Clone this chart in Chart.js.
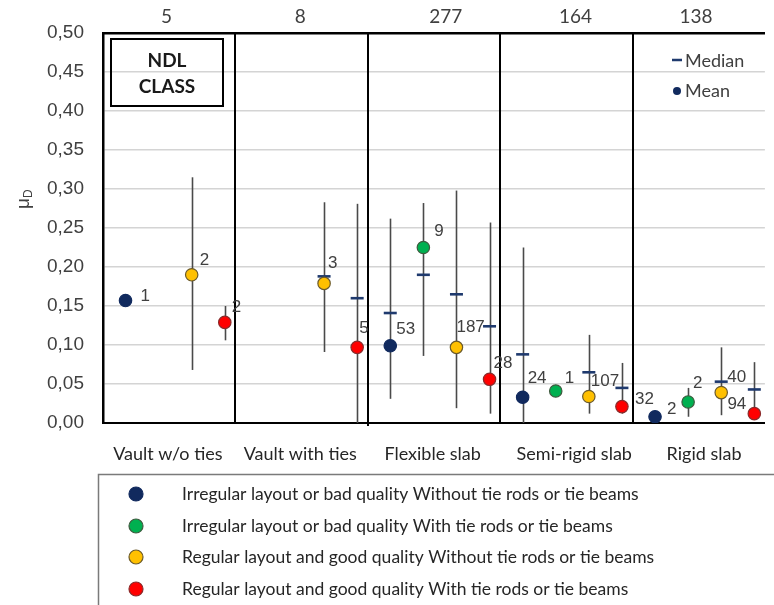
<!DOCTYPE html>
<html>
<head>
<meta charset="utf-8">
<script src="https://cdn.jsdelivr.net/npm/chart.js@4.4.1/dist/chart.umd.min.js"></script>
<style>
  html, body { margin: 0; padding: 0; background: #fff; }
  #wrap { width: 774px; height: 605px; position: relative; }
</style>
</head>
<body>
<div id="wrap"><canvas id="c" width="774" height="605"></canvas></div>
<script>
// ---- Data ----
const categories = ['Vault w/o ties', 'Vault with ties', 'Flexible slab', 'Semi-rigid slab', 'Rigid slab'];
const groupCounts = [5, 8, 277, 164, 138];
const yTickValues = [0, 0.05, 0.10, 0.15, 0.20, 0.25, 0.30, 0.35, 0.40, 0.45, 0.50];

const seriesNames = [
  'Irregular layout or bad quality Without tie rods or tie beams',
  'Irregular layout or bad quality With tie rods or tie beams',
  'Regular layout and good quality Without tie rods or tie beams',
  'Regular layout and good quality With tie rods or tie beams'
];

// Irregular layout / bad quality, without ties
const meanIrrNoTies   = [0.157, null, 0.099, 0.033, 0.008];
const medianIrrNoTies = [null, null, 0.141, 0.088, null];
const lowIrrNoTies    = [null, null, 0.031, 0.000, null];
const highIrrNoTies   = [null, null, 0.262, 0.225, null];
const countIrrNoTies  = [1, null, 53, 24, 2];

// Irregular layout / bad quality, with ties
const meanIrrTies   = [null, null, 0.225, 0.041, 0.027];
const medianIrrTies = [null, null, 0.190, null, null];
const lowIrrTies    = [null, null, 0.086, null, 0.008];
const highIrrTies   = [null, null, 0.282, null, 0.045];
const countIrrTies  = [null, null, 9, 1, 2];

// Regular layout / good quality, without ties
const meanRegNoTies   = [0.190, 0.179, 0.097, 0.034, 0.039];
const medianRegNoTies = [null, 0.188, 0.165, 0.065, 0.053];
const lowRegNoTies    = [0.068, 0.091, 0.019, 0.012, 0.010];
const highRegNoTies   = [0.315, 0.283, 0.298, 0.113, 0.097];
const countRegNoTies  = [2, 3, 187, 107, 40];

// Regular layout / good quality, with ties
const meanRegTies   = [0.129, 0.097, 0.056, 0.021, 0.012];
const medianRegTies = [null, 0.160, 0.124, 0.045, 0.043];
const lowRegTies    = [0.106, 0.000, 0.012, 0.012, 0.004];
const highRegTies   = [0.150, 0.281, 0.257, 0.077, 0.078];
const countRegTies  = [2, 5, 28, 32, 94];

// ---- Styling / layout ----
const seriesColors  = ['#112a5e', '#00b050', '#ffc000', '#ff0000'];
const seriesBorders = ['#112a5e', '#3f5a3f', '#6b5a2a', '#8a2a2a'];
const seriesOffset  = [0.17, 0.42, 0.67, 0.92];   // position inside each category slot
const topLabelAt    = [0.48, 1.49, 2.59, 3.57, 4.48];
const bottomLabelAt = [0.49, 1.49, 2.49, 3.56, 4.54];
const medianColor = '#1f3a6e';
const whiskerColor = '#4a4a4a';
const textGray = '#404040';

// pixel offsets of the count labels (dx, dy, align) per series and group
const labelOffsets = [
  [[15, -4], null, [6, -16], [5, -19], [12, -7]],
  [null, null, [11, -16], [9, -13], [5, -19]],
  [[8, -14], [4, -20], [0, -20], [2, -15], [6, -15]],
  [[7, -15], [2, -19], [4, -16], [13, -7], [-8, -9, 'right']]
];

const series = [
  { mean: meanIrrNoTies, median: medianIrrNoTies, low: lowIrrNoTies, high: highIrrNoTies, count: countIrrNoTies },
  { mean: meanIrrTies,   median: medianIrrTies,   low: lowIrrTies,   high: highIrrTies,   count: countIrrTies },
  { mean: meanRegNoTies, median: medianRegNoTies, low: lowRegNoTies, high: highRegNoTies, count: countRegNoTies },
  { mean: meanRegTies,   median: medianRegTies,   low: lowRegTies,   high: highRegTies,   count: countRegTies }
];

function pointsFrom(values, k) {
  const out = [];
  values.forEach((v, g) => { if (v !== null) out.push({ x: g + seriesOffset[k], y: v }); });
  return out;
}

const datasets = [];
series.forEach((s, k) => {
  datasets.push({
    label: seriesNames[k] + ' (median)',
    data: pointsFrom(s.median, k),
    pointStyle: 'line',
    pointRadius: 6.5,
    borderColor: medianColor,
    backgroundColor: medianColor,
    pointBorderWidth: 2.6,
    showLine: false,
    order: 2
  });
  datasets.push({
    label: seriesNames[k],
    data: pointsFrom(s.mean, k),
    pointStyle: 'circle',
    pointRadius: 6.2,
    backgroundColor: seriesColors[k],
    borderColor: seriesBorders[k],
    pointBorderWidth: 1.2,
    showLine: false,
    order: 1
  });
});

// Whiskers and category separators, under the markers
const underlayPlugin = {
  id: 'underlay',
  beforeDatasetsDraw(chart) {
    const { ctx, chartArea: a, scales } = chart;
    const xs = scales.x, ys = scales.y;
    ctx.save();
    ctx.strokeStyle = '#000';
    ctx.lineWidth = 2;
    for (let i = 1; i < categories.length; i++) {
      const px = Math.round(xs.getPixelForValue(i));
      ctx.beginPath();
      ctx.moveTo(px, a.top);
      ctx.lineTo(px, a.bottom + (i === 2 ? 3 : 0));
      ctx.stroke();
    }
    ctx.strokeStyle = whiskerColor;
    ctx.lineWidth = 1.6;
    series.forEach((s, k) => {
      s.low.forEach((lo, g) => {
        const hi = s.high[g];
        if (lo === null || hi === null) return;
        const px = Math.round(xs.getPixelForValue(g + seriesOffset[k])) + 0.5;
        ctx.beginPath();
        ctx.moveTo(px, ys.getPixelForValue(hi));
        ctx.lineTo(px, ys.getPixelForValue(lo));
        ctx.stroke();
      });
    });
    ctx.restore();
  }
};

// Counts next to the markers, boxes and legends
const overlayPlugin = {
  id: 'overlay',
  afterDraw(chart) {
    const { ctx, scales } = chart;
    const xs = scales.x, ys = scales.y;
    ctx.save();

    // sample-size labels
    ctx.fillStyle = textGray;
    ctx.font = '17px "Liberation Sans", Arial, sans-serif';
    ctx.textBaseline = 'middle';
    series.forEach((s, k) => {
      s.count.forEach((n, g) => {
        if (n === null) return;
        const off = labelOffsets[k][g] || [6, -16];
        ctx.textAlign = off[2] || 'left';
        const px = xs.getPixelForValue(g + seriesOffset[k]);
        const py = ys.getPixelForValue(s.mean[g]);
        ctx.fillText(String(n), px + off[0], py + off[1]);
      });
    });

    // NDL CLASS box
    ctx.strokeStyle = '#000';
    ctx.lineWidth = 2;
    ctx.strokeRect(111, 39, 112, 67);
    ctx.fillStyle = '#1a1a1a';
    ctx.textAlign = 'center';
    ctx.font = 'bold 19px Lato, "Noto Sans", sans-serif';
    ctx.fillText('NDL', 167, 61);
    ctx.fillText('CLASS', 167, 87);

    // Median / Mean key
    ctx.strokeStyle = medianColor;
    ctx.lineWidth = 2.5;
    ctx.beginPath();
    ctx.moveTo(672, 60);
    ctx.lineTo(682, 60);
    ctx.stroke();
    ctx.fillStyle = '#112a5e';
    ctx.beginPath();
    ctx.arc(677, 91, 4, 0, Math.PI * 2);
    ctx.fill();
    ctx.fillStyle = textGray;
    ctx.textAlign = 'left';
    ctx.font = '18px Lato, "Noto Sans", sans-serif';
    ctx.fillText('Median', 685, 61);
    ctx.fillText('Mean', 685, 91);

    // y-axis title: mu with subscript D
    ctx.save();
    ctx.translate(24, 200);
    ctx.rotate(-Math.PI / 2);
    ctx.fillStyle = textGray;
    ctx.textAlign = 'left';
    ctx.textBaseline = 'middle';
    ctx.font = '19px "Liberation Sans", Arial, sans-serif';
    const muW = ctx.measureText('μ').width;
    ctx.fillText('μ', -9, 0);
    ctx.font = '12px "Liberation Sans", Arial, sans-serif';
    ctx.fillText('D', -9 + muW, 5);
    ctx.restore();

    // series legend box
    ctx.strokeStyle = '#7a7a7a';
    ctx.lineWidth = 1.5;
    ctx.strokeRect(98.5, 474.5, 700, 160);
    const rowY = [494, 526, 557, 589];
    ctx.font = '17.5px Lato, "Noto Sans", sans-serif';
    ctx.textBaseline = 'middle';
    seriesNames.forEach((name, k) => {
      ctx.beginPath();
      ctx.arc(136, rowY[k], 7, 0, Math.PI * 2);
      ctx.fillStyle = seriesColors[k];
      ctx.fill();
      ctx.strokeStyle = seriesBorders[k];
      ctx.lineWidth = 1.2;
      ctx.stroke();
      ctx.fillStyle = '#262626';
      ctx.fillText(name, 182, rowY[k]);
    });

    ctx.restore();
  }
};

new Chart(document.getElementById('c'), {
  type: 'scatter',
  data: { datasets },
  plugins: [underlayPlugin, overlayPlugin],
  options: {
    responsive: false,
    animation: false,
    layout: { padding: { left: 0, right: 1, top: 0, bottom: 0 } },
    plugins: { legend: { display: false }, tooltip: { enabled: false } },
    scales: {
      x: {
        type: 'linear', position: 'bottom', min: 0, max: 5,
        afterBuildTicks: a => { a.ticks = bottomLabelAt.map(v => ({ value: v })); },
        afterFit: a => { a.height = 182; },
        grid: { display: false, drawTicks: false },
        border: { color: '#000', width: 2 },
        ticks: {
          autoSkip: false, maxRotation: 0, padding: 20,
          color: '#262626',
          font: { family: 'Lato, "Noto Sans", sans-serif', size: 18 },
          callback: v => categories[Math.floor(v)]
        }
      },
      xTop: {
        type: 'linear', position: 'top', min: 0, max: 5,
        afterBuildTicks: a => { a.ticks = topLabelAt.map(v => ({ value: v })); },
        afterFit: a => { a.height = 33; },
        grid: { display: false, drawTicks: false },
        border: { color: '#000', width: 2.5 },
        ticks: {
          autoSkip: false, maxRotation: 0, padding: 5,
          color: textGray,
          font: { family: 'Lato, "Noto Sans", sans-serif', size: 19 },
          callback: v => String(groupCounts[Math.floor(v)])
        }
      },
      y: {
        min: 0, max: 0.5,
        afterBuildTicks: a => { a.ticks = yTickValues.map(v => ({ value: v })); },
        afterFit: a => { a.width = 103; },
        grid: { color: '#d4d4d4', lineWidth: 1.5, drawTicks: false },
        border: { color: '#000', width: 2.5 },
        ticks: {
          padding: 19,
          color: textGray,
          font: { family: '"Liberation Sans", Arial, sans-serif', size: 19 },
          callback: v => v.toFixed(2).replace('.', ',')
        }
      }
    }
  }
});
</script>
</body>
</html>
